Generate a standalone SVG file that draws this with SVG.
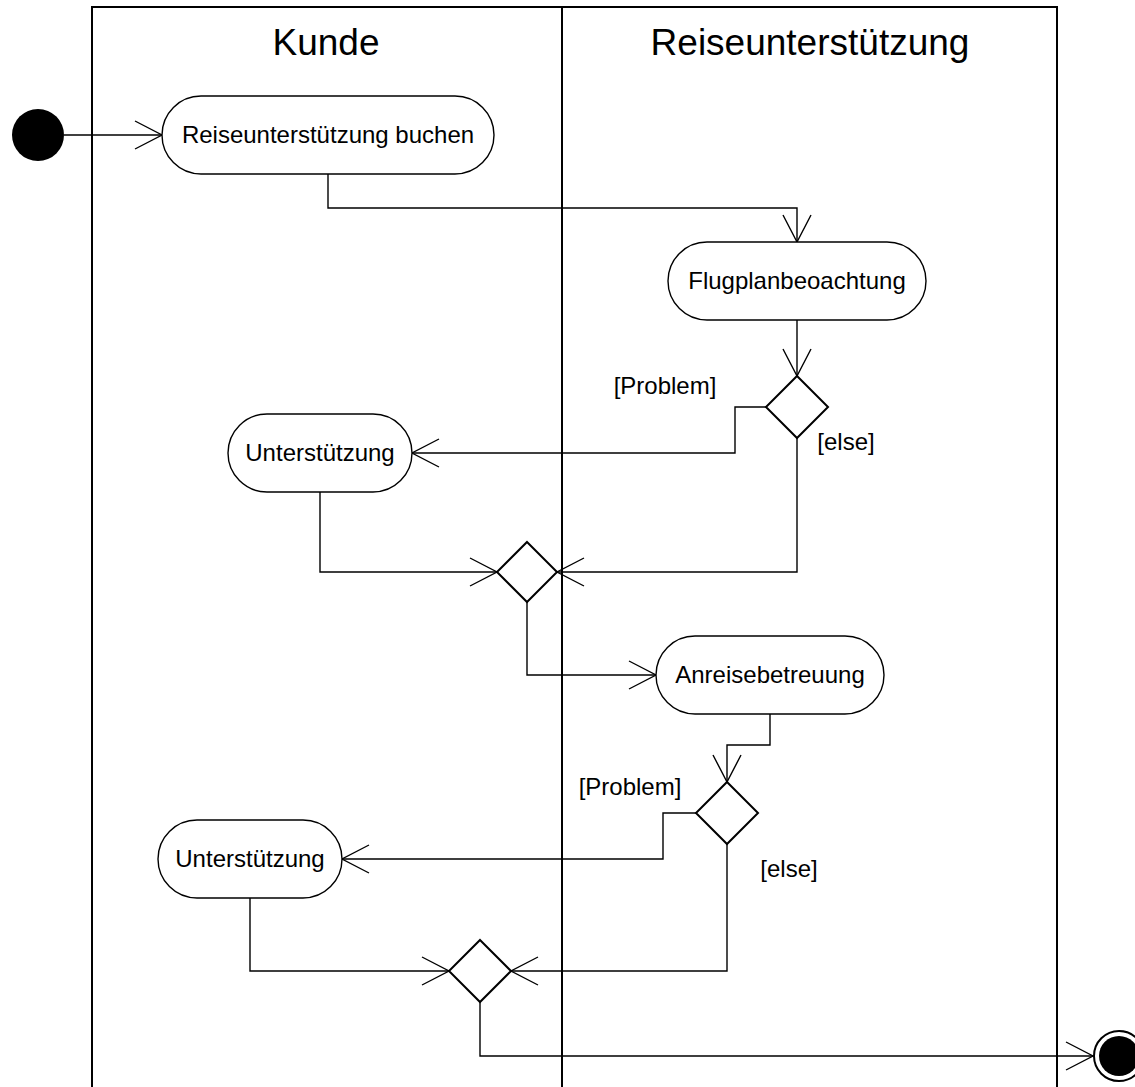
<svg xmlns="http://www.w3.org/2000/svg" width="1135" height="1087" viewBox="0 0 1135 1087">
<style>
.lane{fill:none;stroke:#000;stroke-width:2}
.hdr{font-family:"Liberation Sans",Arial,sans-serif;font-size:37px;text-anchor:middle;fill:#000}
.act{fill:#fff;stroke:#000;stroke-width:1.4}
.lbl{font-family:"Liberation Sans",Arial,sans-serif;font-size:24px;text-anchor:middle;fill:#000}
.dec{fill:#fff;stroke:#000;stroke-width:2}
.edge{fill:none;stroke:#000;stroke-width:1.4;marker-end:url(#arr)}
</style>
<defs>
<marker id="arr" markerUnits="userSpaceOnUse" markerWidth="40" markerHeight="40" viewBox="-30 -20 40 40" refX="0" refY="0" orient="auto" overflow="visible">
<path d="M-27,-14 L0,0 L-27,14" fill="none" stroke="#000" stroke-width="1.4"/>
</marker>
</defs>
<rect width="1135" height="1087" fill="#fff"/>
<g id="lanes">
<path class="lane" d="M92,1087 V7 H1057 V1087 M562,7 V1087"/>
<text class="hdr" x="326" y="55">Kunde</text>
<text class="hdr" x="810" y="55">Reiseunterstützung</text>
</g>
<g id="connectors">
<path class="edge" d="M64,135 H162"/>
<path class="edge" d="M328,174 V208 H797 V242"/>
<path class="edge" d="M797,320 V376"/>
<path class="edge" d="M766,407 H735 V453 H412"/>
<path class="edge" d="M797,438 V572 H557"/>
<path class="edge" d="M320,492 V572 H497"/>
<path class="edge" d="M527,602 V675 H656"/>
<path class="edge" d="M770,714 V745 H727 V782"/>
<path class="edge" d="M696,813 H663 V859 H342"/>
<path class="edge" d="M727,844 V971 H511"/>
<path class="edge" d="M250,898 V971 H449"/>
<path class="edge" d="M480,1002 V1056 H1093"/>
<text class="lbl" x="665" y="394">[Problem]</text>
<text class="lbl" x="846" y="450">[else]</text>
<text class="lbl" x="630" y="795">[Problem]</text>
<text class="lbl" x="789" y="877">[else]</text>
</g>
<g id="start"><circle cx="38" cy="135" r="26" fill="#000"/></g>
<g id="n1"><rect class="act" x="162" y="96" width="332" height="78" rx="39"/><text class="lbl" x="328" y="143">Reiseunterstützung buchen</text></g>
<g id="n2"><rect class="act" x="668" y="242" width="258" height="78" rx="39"/><text class="lbl" x="797" y="289">Flugplanbeoachtung</text></g>
<g id="d1"><path class="dec" d="M797,376 L828,407 L797,438 L766,407 Z"/></g>
<g id="n3"><rect class="act" x="228" y="414" width="184" height="78" rx="39"/><text class="lbl" x="320" y="461">Unterstützung</text></g>
<g id="m1"><path class="dec" d="M527,542 L557,572 L527,602 L497,572 Z"/></g>
<g id="n4"><rect class="act" x="656" y="636" width="228" height="78" rx="39"/><text class="lbl" x="770" y="683">Anreisebetreuung</text></g>
<g id="d2"><path class="dec" d="M727,782 L758,813 L727,844 L696,813 Z"/></g>
<g id="n5"><rect class="act" x="158" y="820" width="184" height="78" rx="39"/><text class="lbl" x="250" y="867">Unterstützung</text></g>
<g id="m2"><path class="dec" d="M480,940 L511,971 L480,1002 L449,971 Z"/></g>
<g id="final"><circle cx="1119" cy="1056" r="25" fill="#fff" stroke="#000" stroke-width="2"/><circle cx="1119" cy="1056" r="20" fill="#000"/></g>
</svg>
